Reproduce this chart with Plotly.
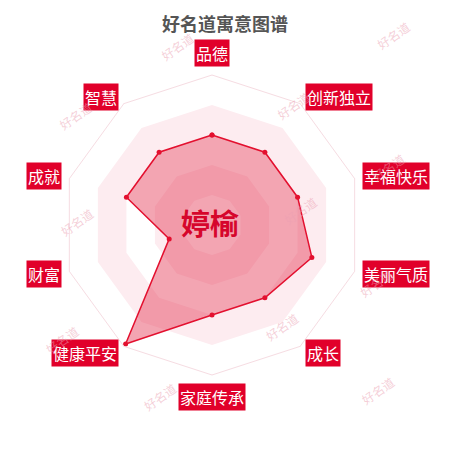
import math
import plotly.graph_objects as go

# chart data
title = '好名道寓意图谱'
name = '婷榆'
categories = ['品德', '创新独立', '幸福快乐', '美丽气质', '成长',
              '家庭传承', '健康平安', '财富', '成就', '智慧']
scores = [60, 60, 60, 70, 60, 60, 98, 30, 60, 60]
ring_levels = [100, 80, 60, 40, 20]
watermark = '好名道'

# layout helpers (pixels in a 450x450 page; the page body adds an 8px margin)
W = H = 450
OFF = 8
cx, cy, R = 212, 225, 150
red = '#e1002a'

def px(x):
    return (x - OFF) / W

def py(y):
    return 1 - (y - OFF) / H

fig = go.Figure()

# split-area shading, outer ring first (alternating white / light pink)
band_colors = ['#ffffff', '#fdecf0', '#ffffff', '#fdecf0', '#ffffff']
for lvl, col in zip(ring_levels, band_colors):
    fig.add_trace(go.Scatterpolar(
        r=[lvl] * (len(categories) + 1),
        theta=categories + [categories[0]],
        mode='lines', line=dict(width=0, color=col),
        fill='toself', fillcolor=col, hoverinfo='skip', showlegend=False
    ))

fig.add_trace(go.Scatterpolar(
    r=scores + [scores[0]],
    theta=categories + [categories[0]],
    mode='lines+markers',
    line=dict(color='#e3102f', width=1.5),
    marker=dict(color='#e3102f', size=5),
    fill='toself', fillcolor='rgba(226,40,72,0.42)',
    showlegend=False
))

annotations = []
# axis name boxes
n = len(categories)
for i, cat in enumerate(categories):
    a = 2 * math.pi * i / n
    s, c = math.sin(a), math.cos(a)
    x = cx + 158 * s
    y = cy - 158 * c
    if s > 0.1:
        xa = 'left'
    elif s < -0.1:
        xa = 'right'
    else:
        xa = 'center'
    if c > 0.9:
        ya = 'bottom'
    elif c < -0.9:
        ya = 'top'
    else:
        ya = 'middle'
    annotations.append(dict(
        x=px(x), y=py(y), xref='paper', yref='paper',
        text=cat, showarrow=False, xanchor=xa, yanchor=ya,
        font=dict(family='Noto Sans CJK SC', size=16, color='white'),
        bgcolor=red, borderpad=1
    ))

# name in the middle
annotations.append(dict(
    x=px(210), y=py(222), xref='paper', yref='paper', text='<b>' + name + '</b>',
    showarrow=False, font=dict(family='Noto Sans CJK SC', size=29, color='#d6062c')
))

# watermarks
wm_pos = [(177, 26), (415, 15), (53, 95), (293, 85), (410, 147), (55, 222),
          (300, 210), (398, 283), (40, 360), (282, 347), (160, 417), (400, 411)]
for x, y in wm_pos:
    annotations.append(dict(
        x=px(x), y=py(y), xref='paper', yref='paper', text=watermark,
        showarrow=False, textangle=-35,
        font=dict(family='Noto Sans CJK SC', size=12, color='rgba(235,160,178,0.5)')
    ))

# title, kept just inside the top of the figure
annotations.append(dict(
    x=px(225), y=1, xref='paper', yref='paper', text='<b>' + title + '</b>',
    showarrow=False, xanchor='center', yanchor='top',
    font=dict(family='Noto Sans CJK SC', size=18, color='#555555')
))

fig.update_layout(
    width=W, height=H,
    margin=dict(l=0, r=0, t=0, b=0),
    paper_bgcolor='white',
    polar=dict(
        domain=dict(x=[px(cx - R), px(cx + R)], y=[py(cy + R), py(cy - R)]),
        bgcolor='white',
        gridshape='linear',
        radialaxis=dict(range=[0, 100], dtick=20, showticklabels=False,
                        ticks='', showline=False, gridcolor='#f2bfcb',
                        griddash='dot', gridwidth=1),
        angularaxis=dict(direction='clockwise', rotation=90,
                         showticklabels=False, ticks='',
                         gridcolor='#f3d3db', gridwidth=1,
                         linecolor='#f6dce2', linewidth=1)
    ),
    annotations=annotations
)

fig.write_html('out.html')
